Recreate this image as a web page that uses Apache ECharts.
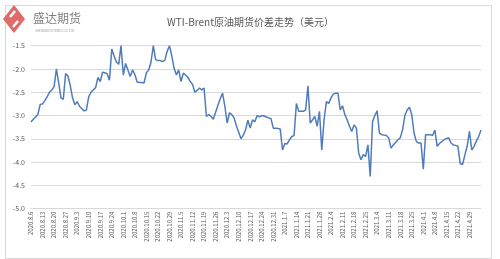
<!DOCTYPE html>
<html>
<head>
<meta charset="utf-8">
<script src="https://cdn.jsdelivr.net/npm/echarts@6/dist/echarts.min.js"></script>
<style>html,body{margin:0;padding:0;background:#fff}#c{width:500px;height:259px}</style>
</head>
<body>
<div id="c"></div>
<script>
const titleText = 'WTI-Brent原油期货价差走势（美元）';
const logoText = '盛达期货';
const tickLabels = ['2020.8.6','2020.8.13','2020.8.20','2020.8.27','2020.9.3','2020.9.10','2020.9.17','2020.9.24','2020.10.1','2020.10.8','2020.10.15','2020.10.22','2020.10.29','2020.11.5','2020.11.12','2020.11.19','2020.11.26','2020.12.3','2020.12.10','2020.12.17','2020.12.24','2020.12.31','2021.1.7','2021.1.14','2021.1.21','2021.1.28','2021.2.4','2021.2.11','2021.2.18','2021.2.25','2021.3.4','2021.3.11','2021.3.18','2021.3.25','2021.4.1','2021.4.8','2021.4.15','2021.4.22','2021.4.29'];
const spread = [
-3.14,-3.08,-3.03,-2.97,-2.76,-2.75,-2.68,-2.60,-2.50,-2.45,
-2.38,-2.00,-2.30,-2.62,-2.65,-2.10,-2.15,-2.35,-2.62,-2.77,
-2.70,-2.80,-2.85,-2.90,-2.88,-2.60,-2.50,-2.45,-2.40,-2.18,
-2.27,-2.07,-2.08,-2.10,-2.24,-1.57,-1.72,-1.85,-1.90,-1.50,
-2.13,-1.88,-2.02,-2.16,-2.02,-2.12,-2.28,-2.29,-2.29,-2.30,
-2.08,-2.02,-1.85,-1.50,-1.80,-1.82,-1.82,-1.84,-1.81,-1.62,
-1.50,-1.72,-1.98,-2.13,-2.02,-2.27,-2.09,-2.13,-2.18,-2.27,
-2.33,-2.50,-2.46,-2.41,-2.45,-2.41,-3.02,-2.98,-3.02,-3.08,
-2.93,-2.78,-2.64,-2.52,-2.80,-3.16,-2.94,-2.98,-3.05,-3.22,
-3.36,-3.50,-3.42,-3.30,-3.10,-3.27,-3.09,-3.13,-3.00,-3.03,
-3.00,-3.01,-3.03,-3.05,-3.07,-3.27,-3.27,-3.28,-3.29,-3.74,
-3.60,-3.61,-3.52,-3.45,-3.43,-2.74,-2.91,-2.91,-2.91,-2.88,
-2.36,-3.16,-3.09,-3.02,-3.23,-2.91,-3.74,-3.09,-2.70,-2.74,
-2.62,-2.54,-2.52,-2.52,-2.88,-2.79,-2.98,-3.09,-3.23,-3.34,
-3.20,-3.27,-3.81,-3.95,-3.84,-3.88,-3.63,-4.31,-3.13,-3.00,
-2.90,-3.38,-3.41,-3.42,-3.43,-3.48,-3.70,-3.63,-3.58,-3.52,
-3.48,-3.31,-3.00,-2.88,-2.82,-2.98,-3.38,-3.56,-3.59,-3.59,
-4.15,-3.41,-3.41,-3.41,-3.43,-3.31,-3.66,-3.60,-3.56,-3.52,
-3.49,-3.48,-3.59,-3.63,-3.64,-3.66,-4.03,-4.05,-3.85,-3.66,
-3.34,-3.74,-3.66,-3.55,-3.45,-3.31
];
const yMin = -5.0, yMax = -1.5, yStep = 0.5;
const perWeek = 5;

const categories = spread.map((v, i) => {
  const w = Math.floor(i / perWeek), j = i % perWeek;
  const base = tickLabels[w] || ('2021.5.' + w);
  return j === 0 ? base : base + '#' + j;
});

const chart = echarts.init(document.getElementById('c'), null, {renderer: 'canvas'});
const font = '"Noto Sans CJK SC", "Noto Sans", sans-serif';
chart.setOption({
  animation: false,
  backgroundColor: '#fff',
  title: {
    text: titleText, left: 162, top: 12,
    textStyle: {fontSize: 10, fontWeight: 'normal', color: '#595959', fontFamily: font}
  },
  grid: {left: 31, right: 19, top: 45.7, bottom: 50.3, containLabel: false},
  xAxis: {
    type: 'category', data: categories, boundaryGap: false,
    axisLine: {show: true, lineStyle: {color: '#d9d9d9', width: 1}},
    axisTick: {show: false},
    axisLabel: {
      rotate: 90, fontSize: 6, color: '#595959', fontFamily: font, margin: 3,
      interval: (i) => i % perWeek === 0 && Math.floor(i / perWeek) < tickLabels.length,
      formatter: (v) => v.split('#')[0]
    },
    splitLine: {show: false}
  },
  yAxis: {
    type: 'value', min: yMin, max: yMax, interval: yStep,
    axisLine: {show: false}, axisTick: {show: false},
    axisLabel: {fontSize: 7, color: '#595959', fontFamily: font, margin: 6,
      formatter: (v) => v.toFixed(1)},
    splitLine: {lineStyle: {color: '#d9d9d9', width: 1}}
  },
  series: [{
    type: 'line', data: spread, showSymbol: false, symbol: 'none',
    lineStyle: {color: '#4f7cba', width: 1.5}, itemStyle: {color: '#4f7cba'}
  }],
  graphic: [
    {type: 'rect', left: 3, top: 3, shape: {width: 486, height: 253},
      style: {fill: 'none', stroke: '#d9d9d9', lineWidth: 1}, z: -1},
    {type: 'polygon', shape: {points: [[14, 5], [25, 19], [14, 33], [3, 19]]},
      style: {fill: '#e06a6a'}},
    {type: 'polyline', shape: {points: [[10, 17], [15, 11]]},
      style: {stroke: '#fff', lineWidth: 2.5, fill: 'none'}},
    {type: 'polyline', shape: {points: [[13, 27], [18, 21]]},
      style: {stroke: '#fff', lineWidth: 2.5, fill: 'none'}},
    {type: 'text', left: 33, top: 12,
      style: {text: logoText, fontSize: 12, fill: '#7f7f7f', fontFamily: font}},
    {type: 'text', left: 35, top: 29,
      style: {text: 'SHENGDA FUTURES CO.,LTD', fontSize: 3, fill: '#9a9a9a', fontFamily: font}}
  ]
});
</script>
</body>
</html>
